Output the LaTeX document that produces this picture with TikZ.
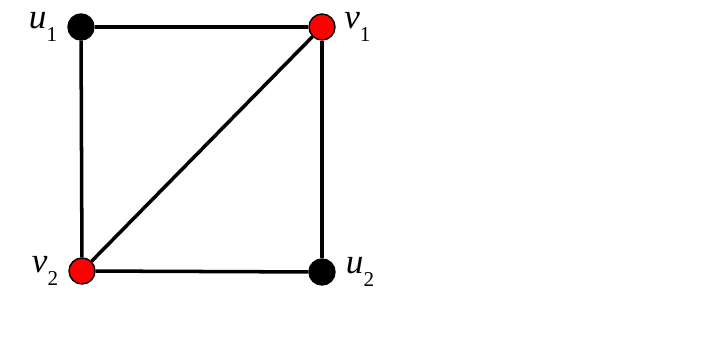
\documentclass[tikz,border=0pt]{standalone}
\usepackage{fontspec}
\setmainfont{Liberation Serif}
\newfontfamily\labelfont{Liberation Serif}
\usetikzlibrary{positioning}
\definecolor{vred}{HTML}{FF0000}
\newcommand{\vlab}[2]{{\labelfont\itshape #1}\raisebox{-0.35em}{\labelfont\fontsize{18}{18}\selectfont #2}}
\tikzset{
  vertex/.style={
    circle, draw=black, line width=1.2pt, minimum size=0.78cm,
    inner sep=0pt, fill=#1
  },
  vertex/.default=black,
  vlabel/.style={font=\labelfont\fontsize{30}{30}\selectfont, inner sep=0pt},
  edge/.style={line width=3pt}
}

\begin{document}
\begin{tikzpicture}[x=0.03cm, y=-0.03cm]
\useasboundingbox (0,0) rectangle (712,338);
\node[vertex] (u1) at (81,27) {};
\node[vertex=vred] (v1) at (322,27) {};
\node[vertex=vred] (v2) at (82,271) {};
\node[vertex] (u2) at (322,272) {};

\node[vlabel, left=0.3cm of u1] (lu1) {\vlab{u}{1}};
\node[vlabel, right=0.25cm of v1] (lv1) {\vlab{v}{1}};
\node[vlabel, left=0.3cm of v2] (lv2) {\vlab{v}{2}};
\node[vlabel, right=0.3cm of u2] (lu2) {\vlab{u}{2}};

\draw[edge] (u1) -- (v1);
\draw[edge] (u1) -- (v2);
\draw[edge] (v1) -- (v2);
\draw[edge] (v2) -- (u2);
\draw[edge] (v1) -- (u2);
\end{tikzpicture}
\end{document}
